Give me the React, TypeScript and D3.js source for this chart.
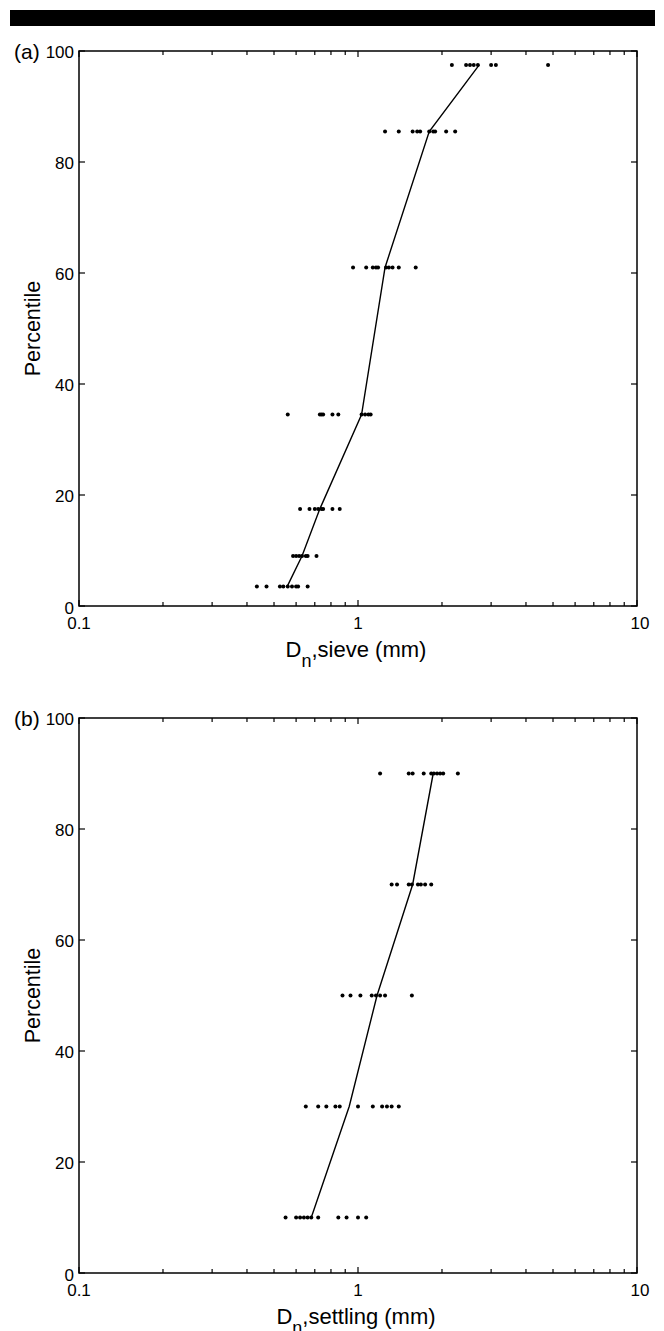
import React from "react";
import * as d3 from "d3";

// ---- Data ----
const xTickLabels = ["0.1", "1", "10"];
const yTickValues = [0, 20, 40, 60, 80, 100];

// Panel (a): sieve
const sieveLevels = [3.5, 9, 17.5, 34.5, 61, 85.5, 97.5];
const sieveLine = [0.557, 0.63, 0.73, 1.03, 1.25, 1.8, 2.72];
const sieveSamples = [
  [0.434, 0.47, 0.525, 0.54, 0.56, 0.58, 0.6, 0.61, 0.66],
  [0.585, 0.6, 0.615, 0.63, 0.65, 0.66, 0.71],
  [0.62, 0.67, 0.7, 0.72, 0.74, 0.75, 0.81, 0.86],
  [0.56, 0.73, 0.74, 0.75, 0.81, 0.85, 1.03, 1.06, 1.09, 1.11],
  [0.96, 1.07, 1.13, 1.16, 1.18, 1.26, 1.29, 1.33, 1.4, 1.61],
  [1.25, 1.4, 1.57, 1.63, 1.67, 1.8, 1.86, 1.89, 2.07, 2.23],
  [2.17, 2.44, 2.52, 2.6, 2.69, 3.0, 3.12, 4.8],
];

// Panel (b): settling
const settleLevels = [10, 30, 50, 70, 90];
const settleLine = [0.68, 0.93, 1.17, 1.57, 1.86];
const settleSamples = [
  [0.55, 0.6, 0.62, 0.64, 0.66, 0.68, 0.72, 0.85, 0.91, 1.0, 1.07],
  [0.65, 0.72, 0.77, 0.83, 0.86, 1.0, 1.13, 1.22, 1.27, 1.32, 1.4],
  [0.88, 0.94, 1.02, 1.12, 1.16, 1.2, 1.25, 1.56],
  [1.32, 1.38, 1.52, 1.56, 1.64, 1.68, 1.74, 1.83],
  [1.2, 1.52, 1.57, 1.72, 1.83, 1.87, 1.92, 1.97, 2.02, 2.28],
];

const FONT = "'Liberation Sans', Arial, Helvetica, sans-serif";

type PanelProps = {
  top: number;
  bottom: number;
  tag: string;
  title: string;
  levels: number[];
  line: number[];
  samples: number[][];
};

function Panel({ top, bottom, tag, title, levels, line, samples }: PanelProps) {
  const left = 79;
  const right = 637;
  const x = d3.scaleLog().domain([0.1, 10]).range([left, right]);
  const y = d3.scaleLinear().domain([0, 100]).range([bottom, top]);
  const allTicks = x.ticks();
  const majors = [0.1, 1, 10];
  const isMajor = (t: number) => majors.some((m) => Math.abs(m - t) < 1e-9);
  const linePath = d3
    .line<number>()
    .x((d) => x(d))
    .y((_, i) => y(levels[i]))(line);
  const midY = (top + bottom) / 2;

  return (
    <g>
      {/* frame */}
      <rect x={left} y={top} width={right - left} height={bottom - top} fill="none" stroke="#000" strokeWidth={1.5} />
      {/* x ticks bottom & top */}
      {allTicks.map((t, i) => {
        const len = isMajor(t) ? 6 : 4;
        return (
          <g key={"xt" + i}>
            <line x1={x(t)} x2={x(t)} y1={bottom} y2={bottom - len} stroke="#000" strokeWidth={1.2} />
            <line x1={x(t)} x2={x(t)} y1={top} y2={top + len} stroke="#000" strokeWidth={1.2} />
          </g>
        );
      })}
      {/* y ticks left & right */}
      {yTickValues.map((t) => (
        <g key={"yt" + t}>
          <line x1={left} x2={left + 6} y1={y(t)} y2={y(t)} stroke="#000" strokeWidth={1.2} />
          <line x1={right} x2={right - 6} y1={y(t)} y2={y(t)} stroke="#000" strokeWidth={1.2} />
        </g>
      ))}
      {/* x tick labels */}
      {majors.map((m, i) => (
        <text key={"xl" + i} x={x(m) + (i === 2 ? 3 : 0)} y={bottom + 23} textAnchor="middle" fontSize={17} fontFamily={FONT}>
          {xTickLabels[i]}
        </text>
      ))}
      {/* y tick labels */}
      {yTickValues.map((t) => (
        <text key={"yl" + t} x={left - 5} y={y(t) + (t === 0 ? 8 : 6.5)} textAnchor="end" fontSize={17} fontFamily={FONT}>
          {t}
        </text>
      ))}
      {/* panel tag */}
      <text x={14} y={top + 7.5} fontSize={21} fontFamily={FONT}>
        {tag}
      </text>
      {/* axis titles */}
      <text x={356} y={bottom + 51} textAnchor="middle" fontSize={22} fontFamily={FONT}>
        D<tspan dy={10} fontSize={18}>n</tspan>
        <tspan dy={-10}>{title}</tspan>
      </text>
      <text
        transform={`translate(40,${midY}) rotate(-90)`}
        textAnchor="middle"
        fontSize={21.5}
        fontFamily={FONT}
      >
        Percentile
      </text>
      {/* median line */}
      <path d={linePath || ""} fill="none" stroke="#000" strokeWidth={1.4} />
      {/* sample dots */}
      {samples.map((row, r) =>
        row.map((v, k) => <circle key={`d${r}-${k}`} cx={x(v)} cy={y(levels[r])} r={2} fill="#000" />)
      )}
    </g>
  );
}

export default function App() {
  return (
    <svg
      width={664}
      height={1331}
      style={{ position: "absolute", left: 0, top: 0, background: "#fff" }}
    >
      <rect x={0} y={0} width={664} height={1331} fill="#fff" />
      <rect x={10} y={10} width={645} height={16} fill="#000" />
      <Panel
        top={51}
        bottom={606}
        tag="(a)"
        title=",sieve (mm)"
        levels={sieveLevels}
        line={sieveLine}
        samples={sieveSamples}
      />
      <Panel
        top={718}
        bottom={1273}
        tag="(b)"
        title=",settling (mm)"
        levels={settleLevels}
        line={settleLine}
        samples={settleSamples}
      />
    </svg>
  );
}
